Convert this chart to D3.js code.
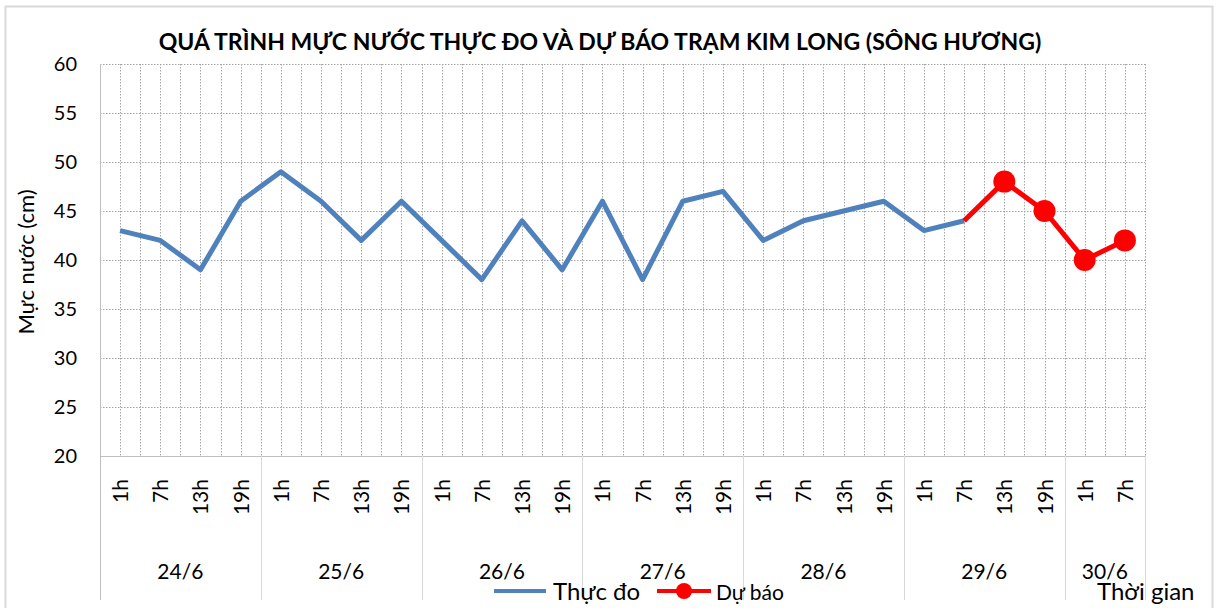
<!DOCTYPE html>
<html lang="vi">
<head>
<meta charset="UTF-8">
<title>Mực nước Kim Long</title>
<script src="https://d3js.org/d3.v7.min.js"></script>
<style>
    body { margin: 0; background: #fff; font-family: Lato, 'Noto Sans', sans-serif; }
    svg { display: block; }
    .grid line { stroke: #a6a6a6; stroke-dasharray: 1.5 1.5; stroke-width: 1; }
</style>
</head>
<body>
<svg id="chart" width="1218" height="608"></svg>
<script>
    // dữ liệu
    const days = ["24/6", "25/6", "26/6", "27/6", "28/6", "29/6", "30/6"];
    const hours = [
        ["1h", "7h", "13h", "19h"], ["1h", "7h", "13h", "19h"], ["1h", "7h", "13h", "19h"],
        ["1h", "7h", "13h", "19h"], ["1h", "7h", "13h", "19h"], ["1h", "7h", "13h", "19h"],
        ["1h", "7h"]
    ];
    const thucDo = [43, 42, 39, 46, 49, 46, 42, 46, 42, 38, 44, 39, 46, 38, 46, 47, 42, 44, 45, 46, 43, 44,
        null, null, null, null];
    const duBao = [null, null, null, null, null, null, null, null, null, null, null, null, null, null, null, null,
        null, null, null, null, null, 44, 48, 45, 40, 42];
    const yTicks = [20, 25, 30, 35, 40, 45, 50, 55, 60];

    const width = 1218, height = 608;
    const m = { left: 100, right: 1145, top: 64, bottom: 456 };
    const svg = d3.select("#chart");

    // khung ngoài
    svg.append("rect").attr("x", 5.5).attr("y", 6.5).attr("width", 1207).attr("height", 610)
        .attr("fill", "none").attr("stroke", "#d9d9d9").attr("stroke-width", 2);

    let cats = [];
    hours.forEach((hs, di) => hs.forEach((h, hi) => cats.push({ key: di + "_" + hi, day: di, hour: h })));

    const x = d3.scaleBand().domain(cats.map(c => c.key)).range([m.left, m.right]);
    const y = d3.scaleLinear().domain([20, 60]).range([m.bottom, m.top]);
    const bw = x.bandwidth();

    // lưới
    const grid = svg.append("g").attr("class", "grid");
    grid.selectAll(".h").data(yTicks.filter(v => v > 20)).enter().append("line")
        .attr("x1", m.left).attr("x2", m.right)
        .attr("y1", d => y(d) + 0.5).attr("y2", d => y(d) + 0.5);
    let vx = [];
    cats.forEach(c => { vx.push(x(c.key) + bw / 2); vx.push(x(c.key) + bw); });
    grid.selectAll(".v").data(vx).enter().append("line")
        .attr("x1", d => Math.round(d) + 0.5).attr("x2", d => Math.round(d) + 0.5)
        .attr("y1", m.top).attr("y2", m.bottom);

    // trục
    svg.append("line").attr("x1", m.left + 0.5).attr("x2", m.left + 0.5).attr("y1", m.top).attr("y2", 600)
        .attr("stroke", "#bfbfbf");
    svg.append("line").attr("x1", m.left).attr("x2", m.right).attr("y1", m.bottom + 0.5).attr("y2", m.bottom + 0.5)
        .attr("stroke", "#bfbfbf");

    const yAxis = svg.append("g").attr("transform", `translate(${m.left},0)`)
        .call(d3.axisLeft(y).tickValues(yTicks).tickSize(0).tickPadding(23));
    yAxis.select(".domain").remove();
    yAxis.selectAll("text").attr("font-size", 20).attr("font-family", "Lato, sans-serif").attr("fill", "#000");

    svg.append("text").attr("transform", "translate(34,262) rotate(-90)")
        .attr("text-anchor", "middle").attr("font-size", 22).text("Mực nước (cm)");

    // nhãn giờ
    svg.selectAll(".hr").data(cats).enter().append("text")
        .attr("transform", c => `translate(${x(c.key) + bw / 2 + 8},${479}) rotate(-90)`)
        .attr("text-anchor", "end").attr("font-size", 21).text(c => c.hour);

    // nhãn ngày + vạch phân cách
    let start = 0;
    days.forEach((d, di) => {
        const n = hours[di].length;
        const x0 = x(cats[start].key), x1 = x(cats[start + n - 1].key) + bw;
        svg.append("text").attr("x", (x0 + x1) / 2).attr("y", 579).attr("text-anchor", "middle")
            .attr("font-size", 21).text(d);
        svg.append("line").attr("x1", Math.round(x1) + 0.5).attr("x2", Math.round(x1) + 0.5)
            .attr("y1", m.bottom).attr("y2", 600).attr("stroke", "#d9d9d9");
        start += n;
    });

    // đường dữ liệu
    const line = d3.line().defined(d => d.v != null).x(d => x(d.k) + bw / 2).y(d => y(d.v));
    const td = cats.map((c, i) => ({ k: c.key, v: thucDo[i] }));
    const db = cats.map((c, i) => ({ k: c.key, v: duBao[i] }));

    svg.append("path").datum(td).attr("d", line).attr("fill", "none")
        .attr("stroke", "#4f81bd").attr("stroke-width", 5).attr("stroke-linejoin", "round");
    svg.append("path").datum(db).attr("d", line).attr("fill", "none")
        .attr("stroke", "#ff0000").attr("stroke-width", 5).attr("stroke-linejoin", "round");
    svg.selectAll(".dot").data(db.filter((d, i) => d.v != null && i > 21)).enter().append("circle")
        .attr("cx", d => x(d.k) + bw / 2).attr("cy", d => y(d.v)).attr("r", 11).attr("fill", "#ff0000");

    // tiêu đề
    svg.append("text").attr("x", 600).attr("y", 50).attr("text-anchor", "middle")
        .attr("font-size", 23).attr("font-weight", "bold")
        .text("QUÁ TRÌNH MỰC NƯỚC THỰC ĐO VÀ DỰ BÁO TRẠM KIM LONG (SÔNG HƯƠNG)");

    // chú giải
    const lg = svg.append("g").attr("transform", "translate(0,591)");
    lg.append("line").attr("x1", 494).attr("x2", 546).attr("stroke", "#4f81bd").attr("stroke-width", 4);
    lg.append("text").attr("x", 553).attr("y", 9).attr("font-size", 24).text("Thực đo");
    lg.append("line").attr("x1", 657).attr("x2", 711).attr("stroke", "#ff0000").attr("stroke-width", 4);
    lg.append("circle").attr("cx", 684).attr("r", 8).attr("fill", "#ff0000");
    lg.append("text").attr("x", 716).attr("y", 9).attr("font-size", 21).text("Dự báo");

    svg.append("text").attr("x", 1097).attr("y", 600).attr("font-size", 24).text("Thời gian");
</script>
</body>
</html>
